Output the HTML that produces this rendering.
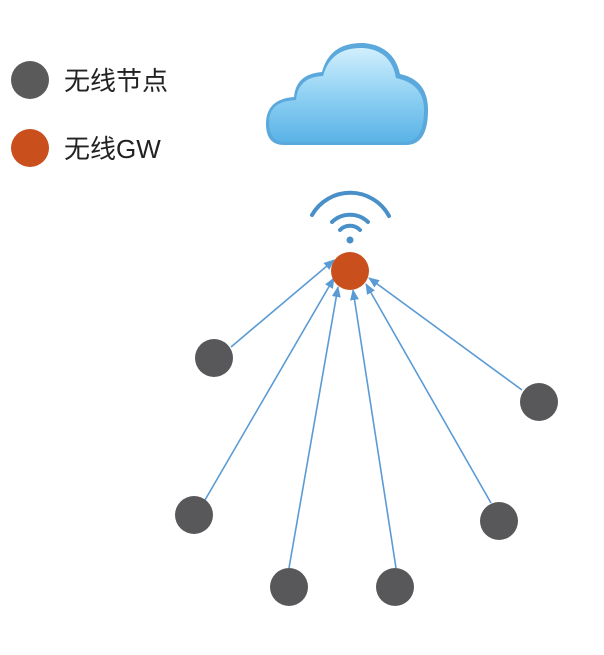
<!DOCTYPE html>
<html><head><meta charset="utf-8"><style>
body{margin:0;background:#fff;width:604px;height:650px;overflow:hidden;font-family:"Liberation Sans","Noto Sans CJK SC",sans-serif}
</style></head><body>
<svg width="604" height="650" xmlns="http://www.w3.org/2000/svg">
<defs>
<linearGradient id="cg" x1="0" y1="0" x2="0" y2="1">
<stop offset="0" stop-color="#d2effd"/><stop offset="0.5" stop-color="#8fd1f3"/><stop offset="1" stop-color="#5ab3e6"/>
</linearGradient>
<marker id="ar" markerWidth="11" markerHeight="11" refX="10" refY="5.5" orient="auto" markerUnits="userSpaceOnUse">
<path d="M0,1 L11,5.5 L0,10 Z" fill="#5b9bd5"/>
</marker>
</defs>
<circle cx="30" cy="80" r="19" fill="#5a5a5a"/>
<circle cx="30" cy="148" r="19" fill="#c9501c"/>
<text x="64" y="90" font-size="26" fill="#222">无线节点</text>
<text x="64" y="158" font-size="26" fill="#222">无线GW</text>
<!-- cloud -->
<path d="M284,145 Q266,145 266,124 Q266,99 294,97 Q296,74 322,72 Q330,42 364,43 Q394,46 400,74 Q428,80 428,110 Q428,145 406,145 Z" fill="#5aa8dc"/>
<path d="M285,142 Q269,142 269,122 Q269,101 296,100 Q298,77 323,76 Q331,47 363,48 Q391,50 396,78 Q424,84 424,110 Q424,142 404,142 Z" fill="url(#cg)"/>
<!-- wifi -->
<g fill="none" stroke="#4a90c8" stroke-linecap="round">
<circle cx="350" cy="240" r="3.5" fill="#4a90c8" stroke="none"/>
<path d="M340,230 A14,14 0 0 1 360,230" stroke-width="4"/>
<path d="M332,222 A26,26 0 0 1 368,222" stroke-width="4"/>
<path d="M312,215 A44,44 0 0 1 389,216" stroke-width="4"/>
</g>
<!-- arrows -->
<g stroke="#5b9bd5" stroke-width="1.6" marker-end="url(#ar)">
<line x1="231" y1="347" x2="334" y2="260"/>
<line x1="205" y1="500" x2="334" y2="278"/>
<line x1="289" y1="568" x2="338" y2="287"/>
<line x1="396" y1="568" x2="353" y2="290"/>
<line x1="491" y1="503" x2="366" y2="284"/>
<line x1="522" y1="390" x2="369" y2="278"/>
</g>
<circle cx="350" cy="271" r="19" fill="#c9501c"/>
<g fill="#58585a">
<circle cx="214" cy="358" r="19"/>
<circle cx="539" cy="402" r="19"/>
<circle cx="194" cy="515" r="19"/>
<circle cx="499" cy="521" r="19"/>
<circle cx="289" cy="587" r="19"/>
<circle cx="395" cy="587" r="19"/>
</g>
</svg>
</body></html>
